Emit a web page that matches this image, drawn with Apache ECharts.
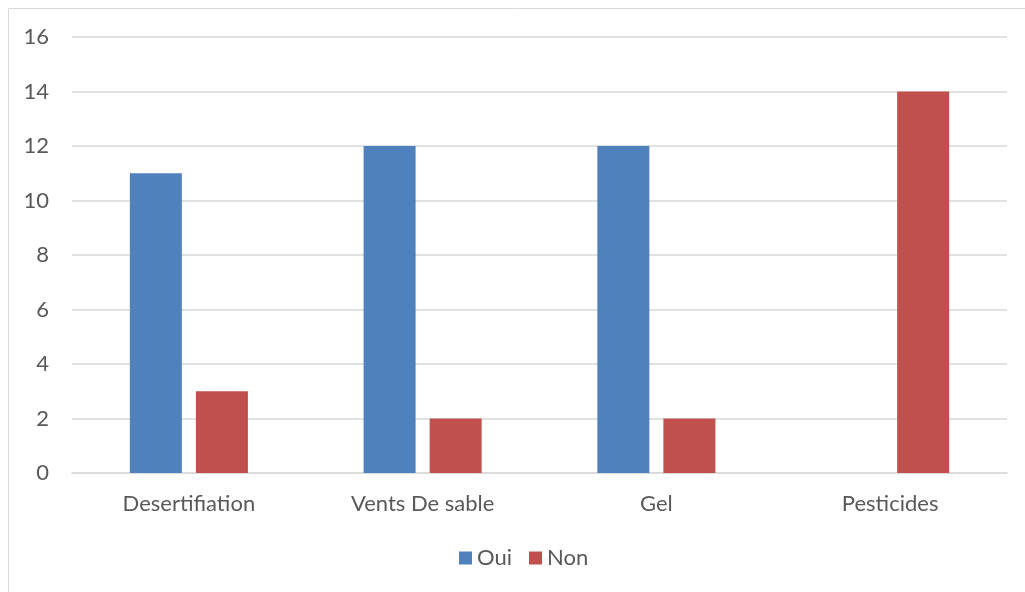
<!DOCTYPE html>
<html>
<head>
<meta charset="utf-8">
<script src="https://cdn.jsdelivr.net/npm/echarts@6/dist/echarts.min.js"></script>
<style>html,body{margin:0;padding:0;background:#fff}#c{width:1025px;height:592px}</style>
</head>
<body>
<div id="c"></div>
<script>
const categories = ["Desertifiation", "Vents De sable", "Gel", "Pesticides"];
const ouiValues = [11, 12, 12, 0];
const nonValues = [3, 2, 2, 14];
const yTicks = [0, 2, 4, 6, 8, 10, 12, 14, 16];

const chart = echarts.init(document.getElementById('c'), null, {renderer: 'canvas'});
const font = 'Lato, "Open Sans", sans-serif';
chart.setOption({
  animation: false,
  backgroundColor: '#fff',
  graphic: [{
    type: 'rect',
    shape: {x: 8.5, y: 8.5, width: 1040, height: 620},
    style: {fill: 'none', stroke: '#D9D9D9', lineWidth: 1},
    silent: true, z: -1
  }],
  grid: {left: 72, right: 18, top: 37, bottom: 119, containLabel: false},
  legend: {
    data: ['Oui', 'Non'],
    bottom: 18,
    left: 454,
    itemWidth: 13, itemHeight: 13, itemGap: 17,
    icon: 'rect',
    textStyle: {color: '#595959', fontSize: 22, fontFamily: font}
  },
  xAxis: {
    type: 'category',
    data: categories,
    axisLine: {lineStyle: {color: '#D9D9D9', width: 1.5}},
    axisTick: {show: false},
    axisLabel: {color: '#595959', fontSize: 22, fontFamily: font, margin: 20}
  },
  yAxis: {
    type: 'value',
    min: yTicks[0], max: yTicks[yTicks.length - 1], interval: 2,
    axisLine: {show: false},
    axisTick: {show: false},
    splitLine: {lineStyle: {color: '#D9D9D9', width: 1.5}},
    axisLabel: {color: '#595959', fontSize: 22, fontFamily: font, margin: 23}
  },
  series: [
    {name: 'Oui', type: 'bar', data: ouiValues, itemStyle: {color: '#4F81BD'},
     barWidth: 52, barGap: '27%'},
    {name: 'Non', type: 'bar', data: nonValues, itemStyle: {color: '#C0504D'},
     barWidth: 52, barGap: '27%'}
  ]
});
</script>
</body>
</html>
